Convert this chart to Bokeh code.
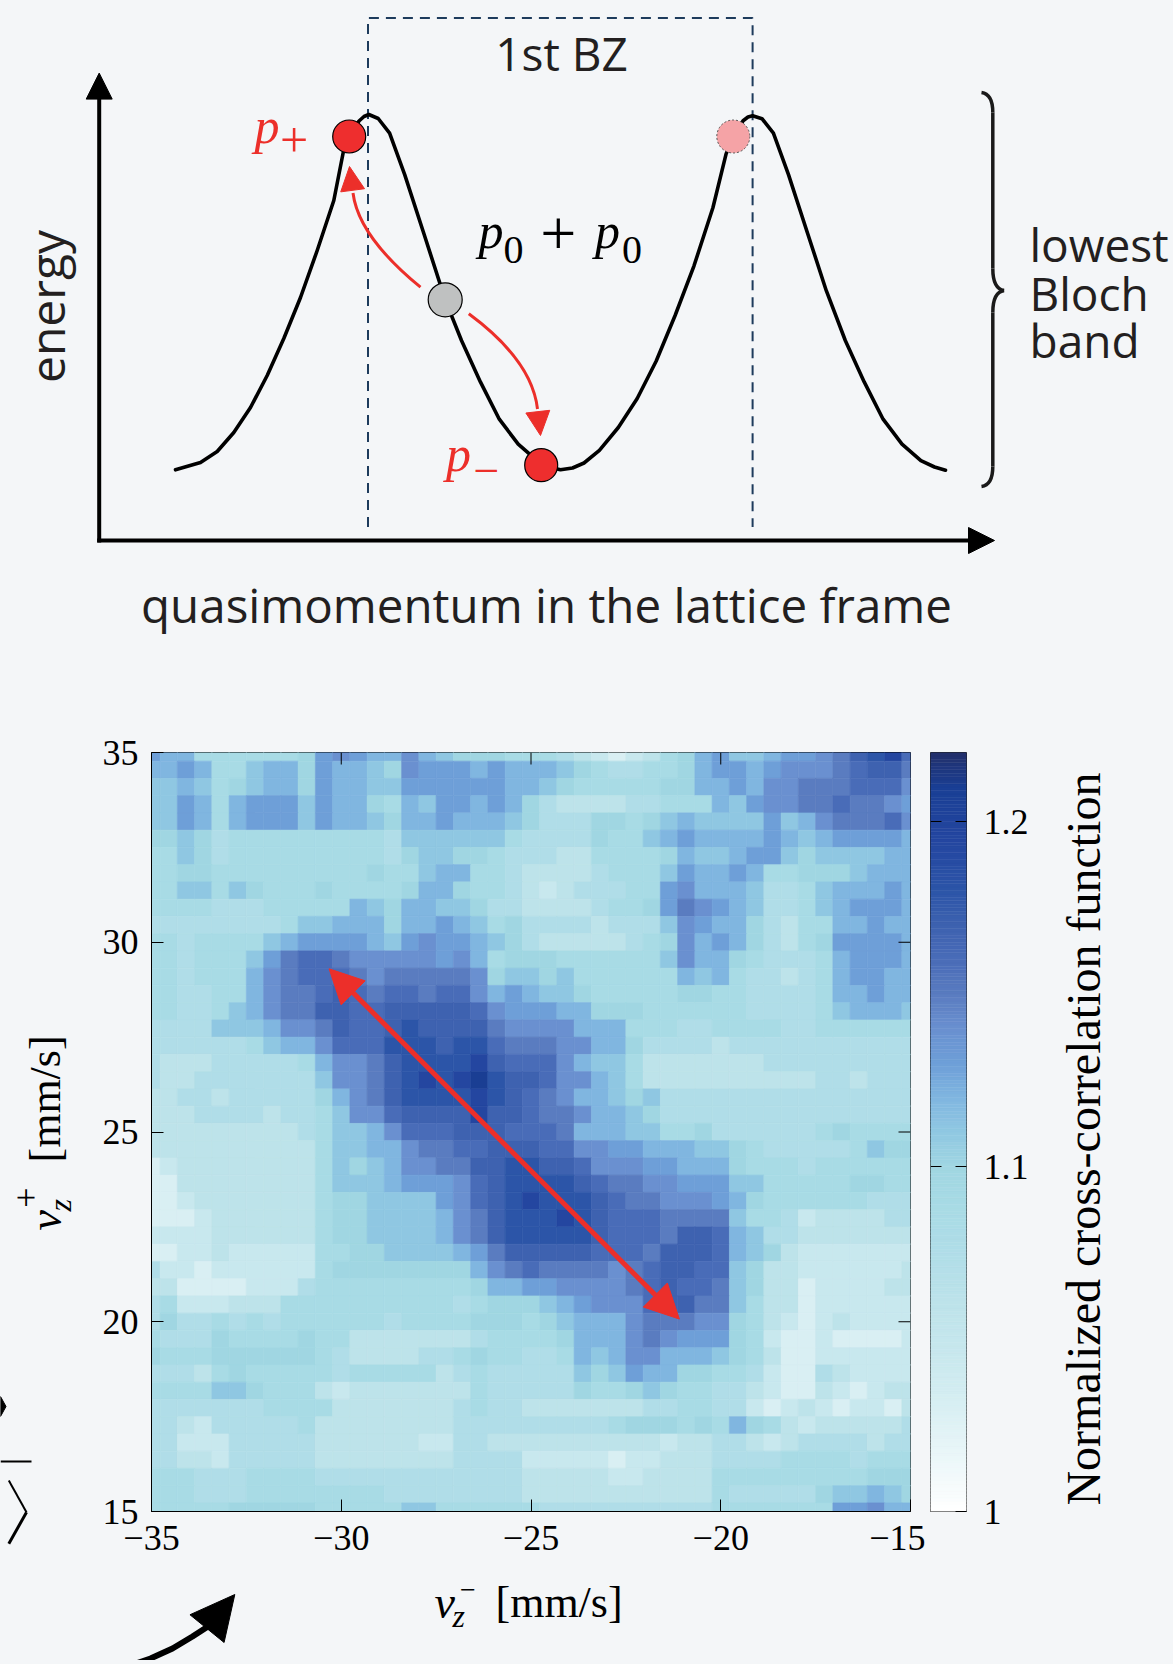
import numpy as np
from bokeh.plotting import figure
from bokeh.layouts import column, row
from bokeh.models import (Range1d, LinearColorMapper, LinearAxis, FixedTicker,
                          CustomJSTickFormatter, Arrow, NormalHead, ColumnDataSource)
from bokeh.core.properties import value
from bokeh.embed import file_html
from bokeh.resources import INLINE

BG = "#f4f6f8"
INK = "#231f20"
RED = "#ec2f2a"
SERIF = "Liberation Serif"
SANS = "Open Sans"

# ====================== lower panel: correlation map ======================
x_ticks = [-35, -30, -25, -20, -15]
y_ticks = [15, 20, 25, 30, 35]
cbar_ticks = [1.0, 1.1, 1.2]
cbar_low, cbar_high = 1.0, 1.22
grid_n = 45
v_minus = np.linspace(-35, -15, grid_n)      # bin centres (columns)
v_plus = np.linspace(35, 15, grid_n)         # bin centres (rows, top -> bottom)
cell = 20.0 / (grid_n - 1)

level_codes = "0123456789abcdef"
level_values = [1.030, 1.045, 1.060, 1.075, 1.088, 1.100, 1.110, 1.120,
                1.130, 1.140, 1.150, 1.160, 1.170, 1.180, 1.195, 1.210]

rows_left = [
    "87744444458987797655544", "77874467758776598887877", "66764567758776688888877",
    "66874788868775476887875", "66874788868776577877765", "55653444444444366666643",
    "44653444444444356655433", "44554444444445446774432", "44664654445444457754432",
    "44443334444476577665332", "33333333466777577876453", "44344446788887689887653",
    "44344468abba99999897455", "44344479abbba9aaaaa9566", "44334479aabcbabbabb9787",
    "44334679aaccbbcccccb988", "3333666799acbbcdcccca99", "33333346779bbbdddcddbaa",
    "3222333334799acddddecbb", "3223333333699acdedefdcc", "2233233333579acddddedcb",
    "22233332334699bcccceccb", "222222222346679bbbcccbb", "2222222222466779aabbccc",
    "01222222224656799aaccdd", "0022222222466678889bcdd", "0012222222455666689bcde",
    "0001222222455666679acdd", "1111222222455666679acdd", "00112111114455666678acc",
    "311011111145555555579ab", "22000011134444444445778", "34111222444444444434555",
    "35334343444444344445554", "43335444454422222223444", "54445555554322223345443",
    "33324544444344444234333", "44446654442122222224333", "33333334444222222234332",
    "33213333342222222233333", "33111333332222221133222", "33221333332222222233331",
    "44433344443333333333332", "44433344444444333333332", "44444555554444466444444",
]
rows_right = [
    "43210124578667889acdeb", "76543344578878999abcca", "654444455778799aaabbb9",
    "322223344476899aabaa98", "33355456766668679aaab9", "3335446787777876788887",
    "3224444576678865666677", "2223444687787445556777", "1233344897776334677787",
    "22234458a9876334678887", "3332333698775324477877", "2222234597875324588887",
    "5444444697754333478887", "5644444476743323478877", "6654444455443333477877",
    "8775554444443333467776", "9977744433444433444444", "a997753333233333333333",
    "b976642222222333333333", "b997642222222222332333", "a977656333333333333333",
    "aa97765333333333333333", "ba77766445333333454444", "bb99887776654333334655",
    "ccb9998877754443444444", "ddcbaa9988866444445544", "dddcbaa999875444444333",
    "dedcbbbaaaa64431222233", "dddcbbbaccb76332222222", "cccbbbacccb76521111111",
    "aaaa9abccbb65221111112", "89999abcbba65220111122", "678999bccaa64220111111",
    "567779aaa9954210121111", "457779a988854100100001", "3476799777654200111111",
    "3365687755443100321111", "3354456544332100210122", "2222223344331012101102",
    "3333455545475421222223", "2222222122332123333233", "1111011222333344443444",
    "2222112222444444444555", "2222222222433333566765", "3333333333444444488977",
]

# double-headed arrow drawn on the map (data units)
map_arrow_a = (-30.32, 29.30)
map_arrow_b = (-21.09, 20.07)

cells_x, cells_y, cells_v = [], [], []
for j, (lft, rgt) in enumerate(zip(rows_left, rows_right)):
    lft = (lft + lft[-1] * 23)[:23]
    rgt = (rgt + rgt[-1] * 22)[:22]
    for k, ch in enumerate(lft + rgt):
        cells_x.append(v_minus[k])
        cells_y.append(v_plus[j])
        cells_v.append(level_values[level_codes.index(ch)])

cmap_stops = [(1.000, "#ffffff"), (1.030, "#d8eff3"), (1.045, "#c8e8ee"), (1.060, "#bde3ea"),
              (1.075, "#b0dde8"), (1.088, "#a8dbe5"), (1.100, "#a0d6e2"), (1.110, "#90c8e2"),
              (1.120, "#80b6e0"), (1.130, "#6e9fd8"), (1.140, "#6a90d0"), (1.150, "#5a7cc0"),
              (1.160, "#4a6cb8"), (1.170, "#3e62b0"), (1.180, "#2c55a8"), (1.195, "#2446a0"),
              (1.210, "#1a3f95"), (1.220, "#22306c")]


def _rgb(h):
    return [int(h[i:i + 2], 16) for i in (1, 3, 5)]


_sv = [s[0] for s in cmap_stops]
_sc = np.array([_rgb(s[1]) for s in cmap_stops], dtype=float)
palette = []
for t in np.linspace(cbar_low, cbar_high, 256):
    c = [int(round(np.interp(t, _sv, _sc[:, i]))) for i in range(3)]
    palette.append("#%02x%02x%02x" % tuple(c))
mapper = LinearColorMapper(palette=palette, low=cbar_low, high=cbar_high)

FRAME = 759                      # map frame size in px
TICK = 12                        # inner tick length in px
tick_dx = TICK * 20.0 / FRAME    # same, in data units
BORDER_TOP, BORDER_BOTTOM = 94, 58
MID_H = BORDER_TOP + FRAME + BORDER_BOTTOM      # 911 -> page rows 658..1569

heat = figure(frame_width=FRAME, frame_height=FRAME, x_range=Range1d(-35, -15), y_range=Range1d(15, 35),
              min_border_left=56, min_border_right=15,
              min_border_top=BORDER_TOP, min_border_bottom=BORDER_BOTTOM,
              output_backend="svg", toolbar_location=None,
              background_fill_color=BG, border_fill_color=BG)
heat.grid.visible = False
heat.outline_line_color = "black"
heat.outline_line_width = 1

src = ColumnDataSource(dict(x=cells_x, y=cells_y, v=cells_v))
heat.rect(x="x", y="y", width=cell, height=cell, source=src,
          fill_color={"field": "v", "transform": mapper},
          line_color={"field": "v", "transform": mapper}, line_width=0.6)

minus_fmt = "return tick < 0 ? '\u2212' + Math.abs(tick) : '' + tick;"
heat.xaxis.ticker = FixedTicker(ticks=x_ticks)
heat.yaxis.ticker = FixedTicker(ticks=y_ticks)
for ax in heat.axis:
    ax.formatter = CustomJSTickFormatter(code=minus_fmt)
    ax.major_tick_in = TICK
    ax.major_tick_out = 0
    ax.minor_tick_line_color = None
    ax.axis_line_color = "black"
    ax.major_tick_line_color = "black"
    ax.major_label_text_font = SERIF
    ax.major_label_text_font_size = "36px"
    ax.major_label_text_color = "black"
heat.xaxis.major_label_standoff = 14
heat.yaxis.major_label_standoff = 13

# mirrored inner ticks on the top and right edges
inner_x = x_ticks[1:-1]
inner_y = y_ticks[1:-1]
heat.segment(x0=inner_x, y0=[35] * len(inner_x), x1=inner_x, y1=[35 - tick_dx] * len(inner_x),
             line_color="black", line_width=1)
heat.segment(x0=[-15] * len(inner_y), y0=inner_y, x1=[-15 - tick_dx] * len(inner_y), y1=inner_y,
             line_color="black", line_width=1)

heat.add_layout(Arrow(x_start=map_arrow_a[0], y_start=map_arrow_a[1],
                      x_end=map_arrow_b[0], y_end=map_arrow_b[1],
                      start=NormalHead(size=34, fill_color=RED, line_color=RED),
                      end=NormalHead(size=34, fill_color=RED, line_color=RED),
                      line_color=RED, line_width=5))

# ---------------- colour bar ----------------
cb_edges = np.linspace(cbar_low, cbar_high, 221)
cbar = figure(frame_width=36, frame_height=FRAME, x_range=Range1d(0, 1), y_range=Range1d(cbar_low, cbar_high),
              min_border_left=5, min_border_right=79,
              min_border_top=BORDER_TOP, min_border_bottom=BORDER_BOTTOM,
              x_axis_type=None, y_axis_type=None, output_backend="svg", toolbar_location=None,
              background_fill_color=BG, border_fill_color=BG)
cbar.grid.visible = False
cbar.outline_line_color = "#222222"
cbar.outline_line_width = 1
cb_src = ColumnDataSource(dict(b=cb_edges[:-1], t=cb_edges[1:], v=0.5 * (cb_edges[:-1] + cb_edges[1:])))
cbar.quad(left=0, right=1, bottom="b", top="t", source=cb_src,
          fill_color={"field": "v", "transform": mapper},
          line_color={"field": "v", "transform": mapper}, line_width=0.5)
cb_right = LinearAxis()
cbar.add_layout(cb_right, "right")
cb_right.ticker = FixedTicker(ticks=cbar_ticks)
cb_right.formatter = CustomJSTickFormatter(code="return '' + Math.round(tick * 10) / 10;")
cb_right.major_tick_in = 11
cb_right.major_tick_out = 0
cb_right.minor_tick_line_color = None
cb_right.axis_line_color = None
cb_right.major_tick_line_color = "black"
cb_right.major_label_text_font = SERIF
cb_right.major_label_text_font_size = "36px"
cb_right.major_label_text_color = "black"
cb_right.major_label_standoff = 17
cb_inner = cbar_ticks[1:]
cbar.segment(x0=[0] * len(cb_inner), y0=cb_inner, x1=[11 / 36.0] * len(cb_inner), y1=cb_inner,
             line_color="black", line_width=1)


def N(v):
    return [-t for t in v]


def blank(width, height, x0, x1, y0, y1):
    f = figure(width=width, height=height, x_range=Range1d(x0, x1), y_range=Range1d(-y1, -y0),
               x_axis_type=None, y_axis_type=None, min_border=0,
               output_backend="svg", toolbar_location=None,
               background_fill_color=BG, border_fill_color=BG)
    f.grid.visible = False
    f.outline_line_color = None
    return f


BASE_K = 0.33   # correction: rendered alphabetic baseline sits ~0.33 em below the anchor


def put_text(f, x, y, txt, font, size, color=INK, style="normal", align="left", angle=0.0):
    px = float(size.replace("px", ""))
    shift = BASE_K * px
    if angle == 0.0:
        xs, ys = list(x), [v - shift for v in y]
    else:
        xs, ys = [v - shift for v in x], list(y)
    f.text(x=xs, y=N(ys), text=txt, text_font=value(font), text_font_size=size,
           text_font_style=style, text_color=color, text_align=align,
           text_baseline="alphabetic", angle=angle)


MID_Y1 = 658 + MID_H

# colour-bar title strip (page pixels 1045..1173)
cbt = blank(128, MID_H, 1045, 1173, 658, MID_Y1)
put_text(cbt, [1099], [1122], ["Normalized cross-correlation function"], SERIF, "48px",
         color="black", align="center", angle=np.pi / 2)

# left strip: y-axis title and clipped pieces of the neighbouring panel (page 0..95 x 658..1660)
left = blank(95, 1002, 0, 95, 658, 1660)
put_text(left, [60], [1230], ["v"], SERIF, "46px", color="black", style="italic", angle=np.pi / 2)
put_text(left, [70], [1211], ["z"], SERIF, "32px", color="black", style="italic", angle=np.pi / 2)
put_text(left, [37], [1197], ["+"], SERIF, "36px", color="black", align="center", angle=np.pi / 2)
put_text(left, [60], [1162], ["[mm/s]"], SERIF, "44px", color="black", angle=np.pi / 2)
left.line([0, 31], N([1461, 1461]), line_color="black", line_width=2)
left.line([8.3, 26], N([1480, 1511.7]), line_color="black", line_width=2)
left.line([26, 8.3], N([1511.7, 1543.3]), line_color="black", line_width=3)
left.patch([0, 5.5, 0], N([1396, 1406, 1416]), fill_color="black", line_color="black")

# bottom strip: x-axis title and the clipped curved arrow (page 95..1173 x MID_Y1..1660)
bottom = blank(1078, 1660 - MID_Y1, 95, 1173, MID_Y1, 1660)
put_text(bottom, [434], [1617], ["v"], SERIF, "46px", color="black", style="italic")
put_text(bottom, [452], [1626], ["z"], SERIF, "32px", color="black", style="italic")
put_text(bottom, [467.5], [1599], ["\u2212"], SERIF, "28px", color="black", align="center")
put_text(bottom, [495], [1617], ["[mm/s]"], SERIF, "44px", color="black")
arc_pts_x = [124, 150, 172, 192, 209]
arc_pts_y = [1667, 1658, 1648, 1636, 1625]
bottom.line(arc_pts_x, N(arc_pts_y), line_color="black", line_width=6, line_join="round")
bottom.add_layout(Arrow(x_start=205, y_start=-1630, x_end=234.3, y_end=-1594,
                        end=NormalHead(size=44, fill_color="black", line_color="black"),
                        line_alpha=0))

# ====================== upper panel: band schematic ======================
# diagram coordinates: page pixels (y grows downwards, plotted as -y)
band_x = [175, 200, 216.7, 233.3, 250, 266.7, 283.3, 300, 316.7, 333.3, 343.3, 349, 358.5, 363.5,
          368.3, 377.7, 389.1, 404.2, 423.1, 444.7, 461, 479.9, 498.8, 517.7, 536.6, 548, 560, 572,
          583.5, 598.9, 617.8, 636.7, 655.6, 674.6, 693.5, 712.4, 725.6, 732.8, 742.6, 747.5, 752.1,
          761.5, 772.9, 788, 806.9, 825.8, 844.8, 863.7, 882.6, 901.5, 920.4, 934, 945]
band_y = [469.3, 462, 451, 432, 407, 375, 338, 297, 250, 200, 149, 136, 120.5, 116, 114, 118, 132.7,
          174.1, 232.2, 299.3, 340, 381.4, 418.7, 443.6, 460.2, 466.5, 469.3, 467.5, 462.5, 449.8, 427,
          398, 360.7, 315, 265.3, 207.3, 153.4, 136, 120.2, 116.5, 115.3, 118.2, 132.7, 174.1, 232.2,
          290.2, 340, 381.4, 418.7, 443.6, 460.2, 466.5, 469.7]
bz_box_x = [367.5, 367.5, 752.1, 752.1]
bz_box_y = [526.5, 17.4, 17.4, 526.5]
axis_origin = (98.7, 540)
axis_x_tip = (994, 540)
axis_y_tip = (98.7, 72.6)
dot_red_x, dot_red_y = [348.7, 540.7], [136, 464.7]
dot_pink = (732.8, 136)
dot_gray = (444.7, 299.3)
# curved red arrows: start, control, end (head base), tip
arc_x0, arc_y0 = [420, 468.3], [286.7, 313.3]
arc_cx, arc_cy = [357.9, 531.5], [235.9, 360]
arc_x1, arc_y1 = [352.5, 537], [192.5, 408.5]
arc_tip_x, arc_tip_y = [349, 540], [166, 435]

top = blank(1173, 658, 0, 1173, 0, 658)

top.line(bz_box_x, N(bz_box_y), line_color="#1d3b5c", line_width=2, line_dash="10 7")
top.add_layout(Arrow(x_start=axis_origin[0], y_start=-axis_origin[1] - 2, x_end=axis_y_tip[0], y_end=-axis_y_tip[1],
                     end=NormalHead(size=26, fill_color="black", line_color="black"),
                     line_color="black", line_width=4))
top.add_layout(Arrow(x_start=axis_origin[0] - 2, y_start=-axis_origin[1], x_end=axis_x_tip[0], y_end=-axis_x_tip[1],
                     end=NormalHead(size=26, fill_color="black", line_color="black"),
                     line_color="black", line_width=4))
top.line(band_x, N(band_y), line_color="black", line_width=3.6, line_join="round", line_cap="round")

top.quadratic(x0=arc_x0, y0=N(arc_y0), x1=arc_x1, y1=N(arc_y1), cx=arc_cx, cy=N(arc_cy),
              line_color=RED, line_width=3)
for i in range(2):
    top.add_layout(Arrow(x_start=arc_x1[i], y_start=-arc_y1[i], x_end=arc_tip_x[i], y_end=-arc_tip_y[i],
                         end=NormalHead(size=24, fill_color=RED, line_color=RED, line_width=1),
                         line_alpha=0))

top.scatter([dot_pink[0]], [-dot_pink[1]], size=33, fill_color="#f5a3a6", line_color="#555555",
            line_width=1, line_dash="2 2")
top.scatter([dot_gray[0]], [-dot_gray[1]], size=34, fill_color="#bfc1c1", line_color="black", line_width=1.2)
top.scatter(dot_red_x, N(dot_red_y), size=33, fill_color="#ee2e2e", line_color="black", line_width=1.2)

# curly brace
brace_b = dict(x0=[981, 992.3, 1003.6, 992.3], y0=[92, 268, 290, 466],
               x1=[992.3, 1003.6, 992.3, 981], y1=[112, 290, 312, 486],
               cx0=[988, 992.3, 997, 992.3], cy0=[93, 282, 291, 478],
               cx1=[992.3, 997, 992.3, 988], cy1=[100, 289, 298, 485])
top.bezier(x0=brace_b["x0"], y0=N(brace_b["y0"]), x1=brace_b["x1"], y1=N(brace_b["y1"]),
           cx0=brace_b["cx0"], cy0=N(brace_b["cy0"]), cx1=brace_b["cx1"], cy1=N(brace_b["cy1"]),
           line_color="#1a1a1a", line_width=3.5)
top.segment(x0=[992.3, 992.3], y0=N([112, 312]), x1=[992.3, 992.3], y1=N([268, 466]),
            line_color="#1a1a1a", line_width=3.5)

put_text(top, [561], [68], ["1st BZ"], SANS, "46px", align="center")
put_text(top, [62], [306], ["energy"], SANS, "48px", align="center", angle=np.pi / 2)
put_text(top, [546], [620], ["quasimomentum in the lattice frame"], SANS, "47.5px", align="center")
put_text(top, [1029, 1029, 1029], [259, 307.6, 354.5], ["lowest", "Bloch", "band"], SANS, "46px")
# p_+ , p_- , p_0 + p_0
put_text(top, [254, 445.5], [142, 469.5], ["p", "p"], SERIF, "50px", color=RED, style="italic")
put_text(top, [293.5], [156], ["+"], SERIF, "50px", color=RED, align="center")
put_text(top, [486], [485], ["\u2212"], SERIF, "46px", color=RED, align="center")
put_text(top, [478, 594.5], [247, 247], ["p", "p"], SERIF, "50px", color="black", style="italic")
put_text(top, [503, 621.6], [263, 263], ["0", "0"], SERIF, "40px", color="black")
put_text(top, [557.7], [255], ["+"], SERIF, "64px", color="black", align="center")

layout = column(top, row(left, column(row(heat, cbar, cbt), bottom)))
html = file_html(layout, INLINE)
html = html.replace("</head>", "<style>html, body { background-color: %s; }</style></head>" % BG, 1)
open("out.html", "w").write(html)
